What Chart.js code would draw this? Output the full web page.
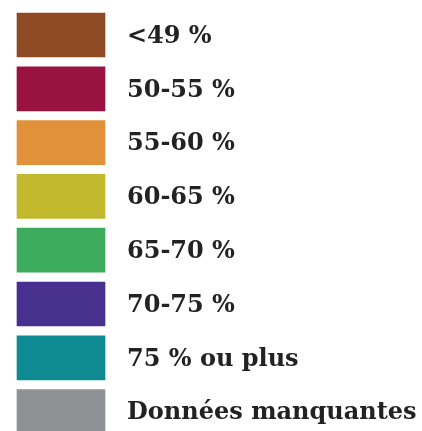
<!DOCTYPE html>
<html>
<head>
<meta charset="utf-8">
<script src="https://cdn.jsdelivr.net/npm/chart.js@4/dist/chart.umd.min.js"></script>
<style>
  html, body { margin: 0; padding: 0; background: #ffffff; }
  #wrap { width: 422px; height: 431px; position: relative; }
</style>
</head>
<body>
<div id="wrap"><canvas id="c"></canvas></div>
<script>
const categories = ["<49 %", "50-55 %", "55-60 %", "60-65 %", "65-70 %", "70-75 %", "75 % ou plus", "Données manquantes"];
const swatchValues = [1, 1, 1, 1, 1, 1, 1, 1];
const swatchColors = ["#8E4A22", "#9A1240", "#E0913A", "#C2B92E", "#3DAB5C", "#48318E", "#0E8A93", "#8E9194"];

new Chart(document.getElementById('c'), {
  type: 'bar',
  data: {
    labels: categories,
    datasets: [{
      data: swatchValues,
      backgroundColor: swatchColors,
      borderWidth: 0,
      barThickness: 44,
      clip: false
    }]
  },
  options: {
    indexAxis: 'y',
    responsive: true,
    maintainAspectRatio: false,
    animation: false,
    layout: { padding: { left: 17, right: 0, top: 35, bottom: 19.4 } },
    plugins: { legend: { display: false }, tooltip: { enabled: false } },
    scales: {
      x: { display: false, min: 0, max: 1 },
      y: {
        position: 'right',
        offset: false,
        grid: { display: false, drawTicks: false },
        border: { display: false },
        ticks: {
          autoSkip: false,
          crossAlign: 'near',
          padding: 22,
          labelOffset: 1.5,
          color: '#222222',
          font: { family: 'DejaVu Serif', weight: 'bold', size: 24 }
        },
        afterFit: (scale) => {
          scale.width = 317;
          scale.paddingTop = 0;
          scale.paddingBottom = 0;
        }
      }
    }
  }
});
</script>
</body>
</html>
